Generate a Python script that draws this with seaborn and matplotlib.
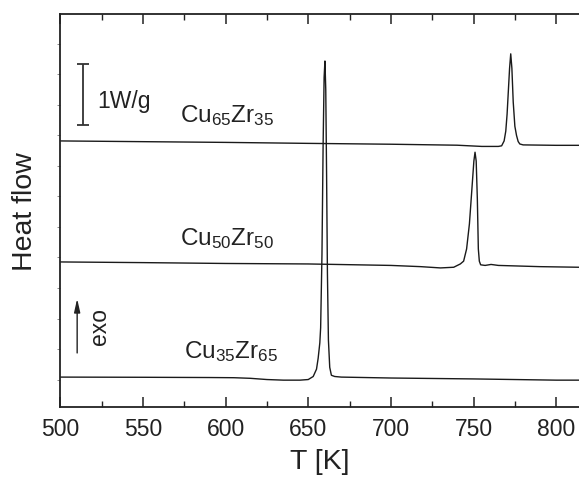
import matplotlib
matplotlib.use("Agg")
import matplotlib.pyplot as plt
import seaborn as sns
import pandas as pd
import numpy as np
from matplotlib.ticker import MultipleLocator

# ---- data (heat flow in W/g, curves offset vertically) ----
T_35 = [500, 550, 590, 605, 615, 625, 635, 645, 650, 653, 655, 656, 657, 657.5, 658.3,
        659, 659.6, 660.1, 660.6, 661.1, 661.6, 662.2, 663, 664, 666, 670, 700,
        750, 800, 814]
H_35 = [0.49, 0.487, 0.483, 0.48, 0.47, 0.45, 0.44, 0.44, 0.45, 0.50, 0.62, 0.80, 1.05,
        1.3, 2.5, 4.3, 5.4, 5.67, 5.2, 3.8, 2.2, 1.1, 0.65, 0.52, 0.50, 0.49,
        0.475, 0.46, 0.44, 0.44]

T_50 = [500, 550, 600, 650, 700, 718, 730, 738, 742, 744, 745.8, 747.5, 749,
        750.2, 750.9, 751.6, 752.3, 752.9, 753.5, 754.3, 757, 760.6, 765, 790, 814]
H_50 = [2.377, 2.366, 2.352, 2.344, 2.32, 2.30, 2.279, 2.29, 2.344, 2.39, 2.59,
        3.0, 3.57, 4.03, 4.175, 4.03, 3.41, 2.59, 2.39, 2.33, 2.32, 2.336, 2.32,
        2.30, 2.29]

T_65 = [500, 550, 600, 650, 700, 740, 755, 763, 765, 767, 768.5, 769.5, 770.3,
        771, 771.8, 772.5, 773.2, 774, 775, 776, 777, 778, 780, 800, 814]
H_65 = [4.36, 4.348, 4.336, 4.32, 4.306, 4.29, 4.27, 4.27, 4.27, 4.28, 4.36,
        4.52, 4.8, 5.15, 5.55, 5.787, 5.55, 5.0, 4.6, 4.45, 4.35, 4.31, 4.295,
        4.288, 4.288]

labels = ["Cu$_{35}$Zr$_{65}$", "Cu$_{50}$Zr$_{50}$", "Cu$_{65}$Zr$_{35}$"]
x_ticks = [500, 550, 600, 650, 700, 750, 800]

sns.set_style("ticks")
plt.rcParams["font.family"] = ["Liberation Sans", "DejaVu Sans"]
plt.rcParams["mathtext.default"] = "regular"

fig = plt.figure(figsize=(5.79, 4.85), dpi=100)
ax = fig.add_axes([60.3 / 579, 77 / 485, 1 - 60.3 / 579, 393 / 485])

lc = "#1a1a1a"
for Tv, Hv in [(T_35, H_35), (T_50, H_50), (T_65, H_65)]:
    df = pd.DataFrame({"T": Tv, "H": Hv})
    sns.lineplot(data=df, x="T", y="H", ax=ax, color=lc, lw=1.0,
                 sort=False, estimator=None)

ax.set_xlim(500, 813.8)
ax.set_ylim(0, 6.44)

for s in ["left", "bottom", "top"]:
    ax.spines[s].set_linewidth(1.3)
    ax.spines[s].set_color("#222222")
ax.spines["right"].set_visible(False)

ax.set_xticks(x_ticks)
ax.xaxis.set_minor_locator(MultipleLocator(25))
ax.tick_params(axis="x", which="major", direction="in", length=7, width=1.1,
               top=True, bottom=True, labelsize=16.5, pad=7, colors="#222222")
ax.tick_params(axis="x", which="minor", direction="in", length=4, width=1.0,
               top=True, bottom=True, colors="#222222")
ax.set_yticks(np.arange(0.45, 6.3, 0.5))
ax.tick_params(axis="y", which="major", direction="out", length=2, width=0.6,
               labelleft=False, colors="#777777")

ax.set_xlabel("T [K]", fontsize=20.5, labelpad=6, color="#222222")
ax.set_ylabel("Heat flow", fontsize=20.5, labelpad=14, color="#222222")

fs = 17.5
ax.text(572.4, 4.69, labels[2], fontsize=fs, color="#222222", va="baseline")
ax.text(572.4, 2.67, labels[1], fontsize=fs, color="#222222", va="baseline")
ax.text(574.8, 0.815, labels[0], fontsize=fs, color="#222222", va="baseline")

# 1 W/g scale bar
ax.errorbar([513.5], [5.12], yerr=[0.5], color="#333333", capsize=4,
            elinewidth=1.3, capthick=1.3)
ax.text(522.2, 4.92, "1W/g", fontsize=16.5, color="#222222", va="baseline")

# exo arrow
ax.annotate("", xy=(510.2, 1.82), xytext=(510.2, 0.84),
            arrowprops=dict(arrowstyle="-|>,head_length=0.8,head_width=0.18",
                            color="#222222", lw=1.0))
ax.text(524.0, 1.33, "exo", fontsize=16.5, rotation=90, color="#222222",
        va="center", ha="center")

fig.savefig("out.png", dpi=100)
